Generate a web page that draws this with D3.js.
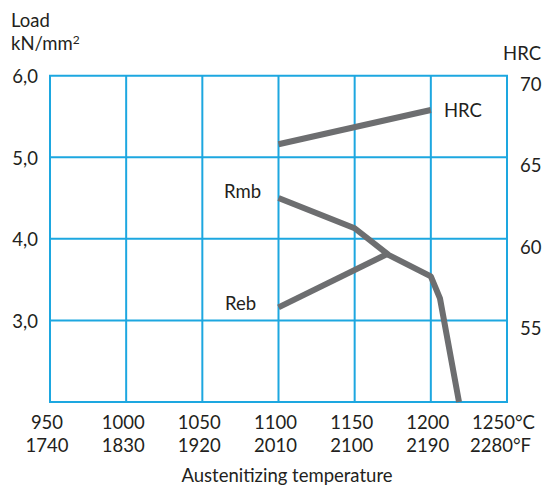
<!DOCTYPE html>
<html><head><meta charset="utf-8">
<script src="https://cdn.jsdelivr.net/npm/d3@7"></script>
<style>
html,body{margin:0;padding:0;background:#fff;}
svg text{font-family:Lato,"Open Sans",sans-serif;fill:#231f20;}
</style></head>
<body>
<svg id="c" width="546" height="487"></svg>
<script>
// Data
const tempC = [950, 1000, 1050, 1100, 1150, 1200, 1250];
const tempF = [1740, 1830, 1920, 2010, 2100, 2190, 2280];
const loadTicks = [3, 4, 5, 6];
const loadGrid = [2, 3, 4, 5, 6];
const hrcTicks = [55, 60, 65, 70];
const loadTickLabels = ["3,0", "4,0", "5,0", "6,0"];

const rmbT = [1100, 1150, 1172.5, 1200, 1206, 1218.5];
const rmbV = [4.50, 4.13, 3.80, 3.54, 3.27, 2.0];
const rebT = [1100, 1172];
const rebV = [3.16, 3.82];
const hrcT = [1100, 1200];
const hrcV = [65.8, 67.9];

const FS = 18.5;
const svg = d3.select("#c");
const x = d3.scaleLinear().domain([950, 1250]).range([50, 507]);
const y = d3.scaleLinear().domain([2, 6]).range([402, 75.7]);
const yR = d3.scaleLinear().domain([50, 70]).range([402, 75.7]);

const gridColor = "#1da7e0";
const lineColor = "#6d6e70";

// grid
const g = svg.append("g");
g.selectAll("line.v").data(tempC).join("line")
  .attr("x1", d => x(d)).attr("x2", d => x(d))
  .attr("y1", y(6)).attr("y2", y(2))
  .attr("stroke", gridColor).attr("stroke-width", 2);
g.selectAll("line.h").data(loadGrid).join("line")
  .attr("x1", x(950) - 1).attr("x2", x(1250) + 1)
  .attr("y1", d => y(d)).attr("y2", d => y(d))
  .attr("stroke", gridColor).attr("stroke-width", 2);

// left axis labels
svg.append("g").selectAll("text").data(loadTicks).join("text")
  .attr("x", 38).attr("y", d => y(d) + 7.5)
  .attr("text-anchor", "end").attr("font-size", FS)
  .text((d, i) => loadTickLabels[i]);

// right axis labels
svg.append("g").selectAll("text").data(hrcTicks).join("text")
  .attr("x", 520).attr("y", d => yR(d) + 15)
  .attr("text-anchor", "start").attr("font-size", FS)
  .text(d => d);

// bottom labels
svg.append("g").selectAll("text").data(tempC).join("text")
  .attr("x", (d, i) => i === tempC.length - 1 ? x(d) - 35 : x(d) - 3)
  .attr("y", 429)
  .attr("text-anchor", (d, i) => i === tempC.length - 1 ? "start" : "middle")
  .attr("font-size", FS)
  .text((d, i) => i === tempC.length - 1 ? d + "°C" : d);
svg.append("g").selectAll("text").data(tempF).join("text")
  .attr("x", (d, i) => i === tempF.length - 1 ? x(tempC[i]) - 37 : x(tempC[i]) - 3)
  .attr("y", 452)
  .attr("text-anchor", (d, i) => i === tempF.length - 1 ? "start" : "middle")
  .attr("font-size", FS)
  .text((d, i) => i === tempF.length - 1 ? d + "°F" : d);

// titles
svg.append("text").attr("x", 11).attr("y", 27).attr("font-size", FS).text("Load");
const t2 = svg.append("text").attr("x", 11).attr("y", 49.5).attr("font-size", FS);
t2.append("tspan").text("kN/mm");
t2.append("tspan").attr("font-size", 12).attr("dy", -6).text("2");
svg.append("text").attr("x", 541).attr("y", 60).attr("text-anchor", "end").attr("font-size", FS).text("HRC");
svg.append("text").attr("x", 287).attr("y", 482).attr("text-anchor", "middle").attr("font-size", FS).text("Austenitizing temperature");

// lines
const lineL = d3.line().x(d => x(d[0])).y(d => y(d[1]));
const lineR = d3.line().x(d => x(d[0])).y(d => yR(d[1]));
const lines = svg.append("g").attr("fill", "none").attr("stroke", lineColor)
  .attr("stroke-width", 6).attr("stroke-linejoin", "round").attr("stroke-linecap", "butt");
lines.append("path").attr("d", lineL(d3.zip(rmbT, rmbV)));
lines.append("path").attr("d", lineL(d3.zip(rebT, rebV)));
lines.append("path").attr("d", lineR(d3.zip(hrcT, hrcV)));

// series labels
svg.append("text").attr("x", 224).attr("y", 198).attr("font-size", FS).text("Rmb");
svg.append("text").attr("x", 225).attr("y", 310).attr("font-size", FS).text("Reb");
svg.append("text").attr("x", 444).attr("y", 117).attr("font-size", FS).text("HRC");
</script>
</body></html>
